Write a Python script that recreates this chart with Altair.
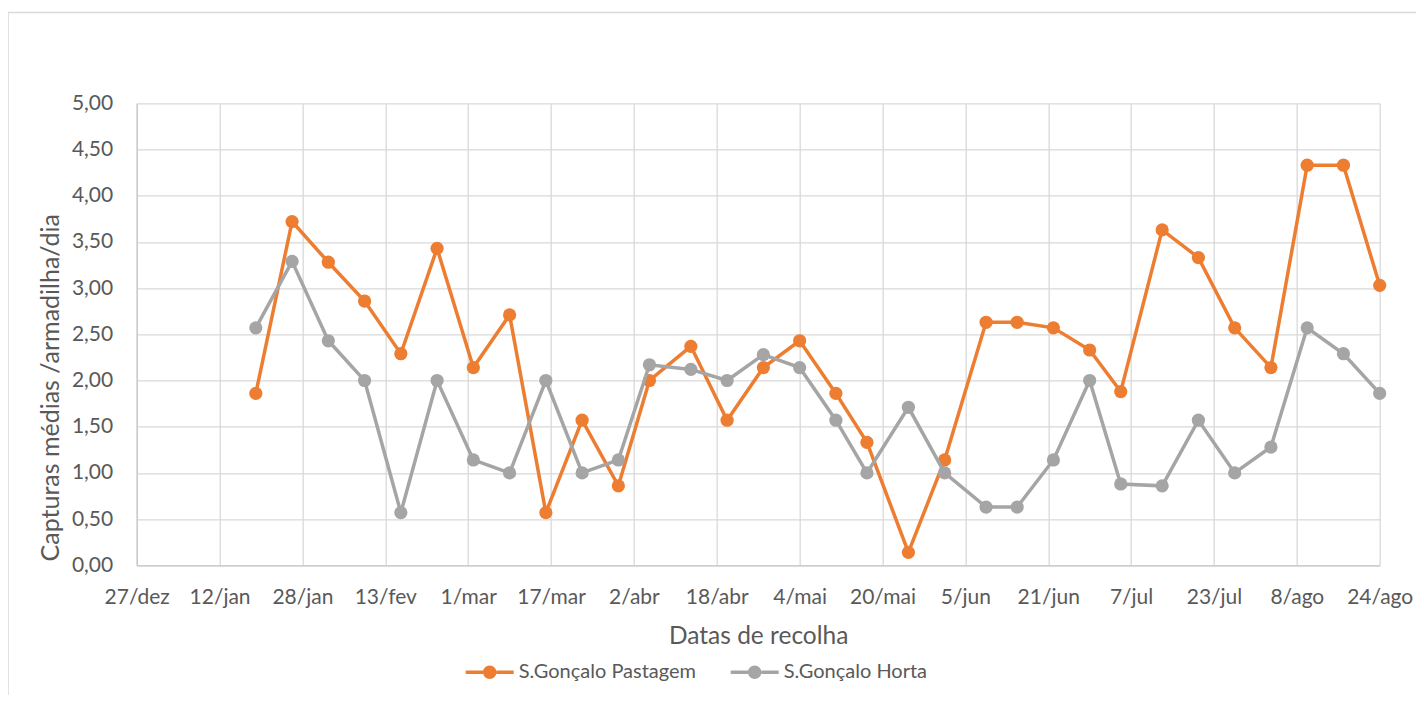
import altair as alt
import pandas as pd

# ---- data ----
dates = [
    "2017-01-19", "2017-01-26", "2017-02-02", "2017-02-09", "2017-02-16", "2017-02-23",
    "2017-03-02", "2017-03-09", "2017-03-16", "2017-03-23", "2017-03-30", "2017-04-05",
    "2017-04-13", "2017-04-20", "2017-04-27", "2017-05-04", "2017-05-11", "2017-05-17",
    "2017-05-25", "2017-06-01", "2017-06-09", "2017-06-15", "2017-06-22", "2017-06-29",
    "2017-07-05", "2017-07-13", "2017-07-20", "2017-07-27", "2017-08-03", "2017-08-10",
    "2017-08-17", "2017-08-24",
]
pastagem = [
    1.86, 3.72, 3.28, 2.86, 2.29, 3.43, 2.14, 2.71, 0.57, 1.57, 0.86, 2.00,
    2.37, 1.57, 2.14, 2.43, 1.86, 1.33, 0.14, 1.14, 2.63, 2.63, 2.57, 2.33,
    1.88, 3.63, 3.33, 2.57, 2.14, 4.33, 4.33, 3.03,
]
horta = [
    2.57, 3.29, 2.43, 2.00, 0.57, 2.00, 1.14, 1.00, 2.00, 1.00, 1.14, 2.17,
    2.12, 2.00, 2.28, 2.14, 1.57, 1.00, 1.71, 1.00, 0.63, 0.63, 1.14, 2.00,
    0.88, 0.86, 1.57, 1.00, 1.28, 2.57, 2.29, 1.86,
]
series_names = ["S.Gonçalo Pastagem", "S.Gonçalo Horta"]
series_colors = ["#ED7D31", "#A5A5A5"]
tick_dates = [
    "2016-12-27", "2017-01-12", "2017-01-28", "2017-02-13", "2017-03-01", "2017-03-17",
    "2017-04-02", "2017-04-18", "2017-05-04", "2017-05-20", "2017-06-05", "2017-06-21",
    "2017-07-07", "2017-07-23", "2017-08-08", "2017-08-24",
]
y_ticks = [0, 0.5, 1, 1.5, 2, 2.5, 3, 3.5, 4, 4.5, 5]

rows = []
for d, v in zip(dates, pastagem):
    rows.append({"Data": d, "Valor": v, "Serie": series_names[0]})
for d, v in zip(dates, horta):
    rows.append({"Data": d, "Valor": v, "Serie": series_names[1]})
df = pd.DataFrame(rows)


def dt(s):
    y, m, d = (int(p) for p in s.split("-"))
    return alt.DateTime(year=y, month=m, date=d, utc=True)


FONT = "Lato"
TXT = "#595959"
GRID = "#D9D9D9"

x_enc = alt.X(
    "Data:T",
    scale=alt.Scale(type="utc", domain=[dt(tick_dates[0]), dt(tick_dates[-1])], nice=False),
    axis=alt.Axis(
        values=[dt(t) for t in tick_dates],
        labelExpr="utcdate(datum.value) + '/' + ['jan','fev','mar','abr','mai','jun','jul','ago','set','out','nov','dez'][utcmonth(datum.value)]",
        title="Datas de recolha",
        titleFontSize=24.5,
        titleY=71,
        titleBaseline="middle",
        labelPadding=21,
        labelFlush=False,
        labelOverlap=False,
    ),
)
y_enc = alt.Y(
    "Valor:Q",
    scale=alt.Scale(domain=[0, 5], nice=False),
    axis=alt.Axis(
        values=y_ticks,
        labelExpr="replace(format(datum.value, '.2f'), '.', ',')",
        title="Capturas médias /armadilha/dia",
        titleFontSize=25,
        titleX=-86,
        titleY=284,
        titleAlign="center",
        titleBaseline="middle",
        labelPadding=24,
    ),
)

color_enc = alt.Color(
    "Serie:N",
    scale=alt.Scale(domain=series_names, range=series_colors),
    sort=series_names,
    legend=alt.Legend(
        title=None,
        orient="none",
        direction="horizontal",
        legendX=329,
        legendY=545,
        symbolType="M-1,-0.07L-0.28,-0.07L-0.28,0.07L-1,0.07Z M0.28,-0.07L1,-0.07L1,0.07L0.28,0.07Z M0.28,0A0.28,0.28,0,1,1,-0.28,0A0.28,0.28,0,1,1,0.28,0Z",
        symbolSize=2304,
        symbolStrokeWidth=0,
        symbolOpacity=1,
        labelOffset=5,
        columnPadding=34,
        labelFontSize=20,
        labelLimit=400,
        labelFont=FONT,
        labelColor=TXT,
    ),
)

# decorative chart-area frame (Excel chart border), not data
frame = alt.Chart(pd.DataFrame({"k": [0]})).mark_rect(
    fill=None, stroke="#D9D9D9", strokeWidth=1.5
).encode(
    x=alt.value(-128.7), x2=alt.value(1320), y=alt.value(-90.8), y2=alt.value(640)
)

base = alt.Chart(df).encode(x=x_enc, y=y_enc)

layers = [frame]
for name, col in zip(series_names, series_colors):
    sub = base.transform_filter(alt.datum.Serie == name)
    layers.append(sub.mark_line(color=col, strokeWidth=3.5))
    layers.append(sub.mark_point(filled=True, size=175, opacity=1).encode(color=color_enc))

chart = alt.layer(*layers).properties(
    width=1243,
    height=462,
    autosize=alt.AutoSizeParams(type="none"),
    padding={"left": 128.7, "top": 95.3, "right": 36, "bottom": 130},
).configure_view(stroke=None).configure_axis(
    labelFont=FONT,
    titleFont=FONT,
    labelFontSize=21,
    titleFontWeight="normal",
    labelColor=TXT,
    titleColor=TXT,
    ticks=False,
    grid=True,
    gridColor=GRID,
    gridWidth=1.3,
    domainColor="#C8C8C8",
    domainWidth=1.3,
)

chart.save("out.html", embed_options={"renderer": "svg", "actions": False})
